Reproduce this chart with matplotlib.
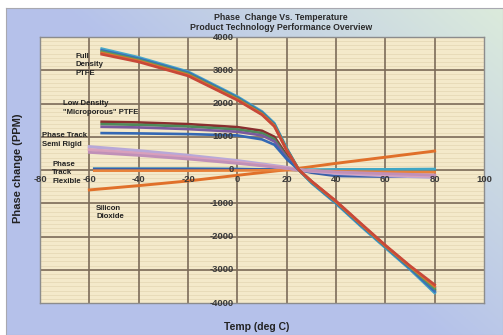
import matplotlib
matplotlib.use('Agg')
import matplotlib.pyplot as plt
import numpy as np

# Datos
temp_full = [-55, -40, -20, 0, 10, 15, 20, 25, 30, 40, 50, 60, 70, 80]
full_teal = [3650, 3390, 2960, 2210, 1760, 1410, 660, 0, -390, -1010, -1690, -2340, -2990, -3700]
full_blue = [3600, 3350, 2930, 2180, 1730, 1380, 640, 0, -370, -990, -1660, -2310, -2960, -3650]
full_green = [3560, 3310, 2890, 2150, 1700, 1350, 620, 0, -350, -960, -1630, -2290, -2920, -3560]
full_orange = [3520, 3280, 2860, 2120, 1680, 1330, 600, 0, -340, -950, -1620, -2280, -2900, -3500]
full_red = [3480, 3250, 2830, 2100, 1660, 1310, 590, 0, -330, -930, -1600, -2260, -2880, -3450]

temp_low = [-55, -40, -20, 0, 10, 15, 20, 25, 30, 40, 50, 60, 70, 80]
low_darkred = [1450, 1430, 1380, 1290, 1180, 1000, 450, 0, -350, -970, -1640, -2290, -2930, -3600]
low_green = [1380, 1360, 1310, 1220, 1110, 930, 400, 0, -360, -980, -1650, -2300, -2940, -3620]
low_purple = [1300, 1280, 1230, 1150, 1040, 860, 370, 0, -340, -960, -1630, -2280, -2910, -3540]
low_blue = [1110, 1100, 1080, 1040, 920, 760, 330, 0, -370, -990, -1660, -2320, -2970, -3680]

temp_semi = [-60, -40, -20, 0, 20, 25, 40, 60, 80]
semi_lavender = [700, 580, 440, 280, 80, 0, -100, -170, -220]
semi_pink = [610, 500, 380, 230, 60, 0, -80, -140, -180]
semi_mauve = [530, 440, 330, 200, 50, 0, -60, -110, -150]

temp_flex = [-58, -40, -20, 0, 20, 25, 30, 40, 60, 80]
flex_teal = [40, 40, 40, 30, 15, 0, 10, 20, 20, 30]
flex_blue = [30, 30, 30, 25, 10, 0, -80, -180, -200, -190]
flex_orange = [-20, -20, -20, -15, -5, 0, -20, -40, -60, -70]

temp_sio2 = [-60, -40, -20, 0, 20, 25, 40, 60, 80]
sio2 = [-600, -470, -330, -160, 10, 50, 200, 385, 570]

x_ticks = [-80, -60, -40, -20, 0, 20, 40, 60, 80, 100]
y_ticks = [4000, 3000, 2000, 1000, 0, -1000, -2000, -3000, -4000]

fam = ['Liberation Sans', 'DejaVu Sans']

W, H = 503, 335
fig = plt.figure(figsize=(W / 100, H / 100), dpi=100)

# Fondo azul con degradado
bg = fig.add_axes([6 / W, 0, 1 - 6 / W, 1 - 8 / H])
gx = np.linspace(0, 1, 200)
gy = np.linspace(0, 1, 200)
GX, GY = np.meshgrid(gx, gy)
t = np.clip((GX * 0.8 + (1 - GY) * 0.6) - 0.7, 0, 1) / 0.7
c1 = np.array([0.71, 0.76, 0.92])
c2 = np.array([0.86, 0.92, 0.86])
img = c1[None, None, :] * (1 - t[..., None]) + c2[None, None, :] * t[..., None]
bg.imshow(img, aspect='auto', extent=[0, 1, 0, 1])
bg.set_xticks([])
bg.set_yticks([])
for s in bg.spines.values():
    s.set_color('#A8A8B0')
    s.set_linewidth(0.8)

ax = fig.add_axes([40 / W, 1 - 303 / H, 444 / W, 266 / H])
ax.set_facecolor('#F4E9CA')
ax.set_xlim(-80, 100)
ax.set_ylim(-4000, 4000)

# franjas del fondo
for yy in np.arange(-4000, 4000, 125):
    ax.axhline(yy, color='#E6D9B6', lw=0.6, zorder=0)
for xx in x_ticks[1:-1]:
    ax.axvline(xx, color='#7C6C5A', lw=1.2, zorder=1)
for yy in y_ticks[1:-1]:
    ax.axhline(yy, color='#7C6C5A', lw=1.2, zorder=1)

ax.set_xticks([])
ax.set_yticks([])
for s in ax.spines.values():
    s.set_color('#8C8C8C')
    s.set_linewidth(1.0)

lw = 1.9
ax.plot(temp_sio2, sio2, color='#E0702A', lw=2.1, zorder=3)
ax.plot(temp_flex, flex_teal, color='#3FA6C4', lw=lw, zorder=3)
ax.plot(temp_flex, flex_blue, color='#3A5FA8', lw=lw, zorder=3)
ax.plot(temp_flex, flex_orange, color='#E8823A', lw=lw, zorder=3)
ax.plot(temp_semi, semi_lavender, color='#B8A8D8', lw=2.3, zorder=3)
ax.plot(temp_semi, semi_pink, color='#D8A0BC', lw=2.3, zorder=3)
ax.plot(temp_semi, semi_mauve, color='#C090B8', lw=2.0, zorder=3)
ax.plot(temp_low, low_darkred, color='#8A2E2E', lw=lw, zorder=3)
ax.plot(temp_low, low_green, color='#4E8A5A', lw=lw, zorder=3)
ax.plot(temp_low, low_purple, color='#7A5A9E', lw=lw, zorder=3)
ax.plot(temp_low, low_blue, color='#3468B4', lw=lw, zorder=3)
ax.plot(temp_full, full_teal, color='#48A8C8', lw=lw, zorder=4)
ax.plot(temp_full, full_blue, color='#3A70B8', lw=lw, zorder=4)
ax.plot(temp_full, full_green, color='#5A9A5A', lw=lw, zorder=4)
ax.plot(temp_full, full_orange, color='#E07030', lw=lw, zorder=4)
ax.plot(temp_full, full_red, color='#C84838', lw=lw, zorder=4)

# etiquetas de los ejes sobre las lineas del cero
for xv in x_ticks:
    ax.text(xv, -300, str(xv), ha='center', va='center', fontsize=6.8,
            color='#3A3A3A', fontweight='bold', family=fam, zorder=5)
for yv in y_ticks:
    ax.text(-1.5, yv, str(yv), ha='right', va='center', fontsize=6.8,
            color='#3A3A3A', fontweight='bold', family=fam, zorder=5)

fs = 5.6
notes = [
    (-65.7, 3160, 'Full\nDensity\nPTFE'),
    (-70.5, 1865, 'Low Density\n"Microporous" PTFE'),
    (-79, 900, 'Phase Track\nSemi Rigid'),
    (-75, -90, 'Phase\nTrack\nFlexible'),
    (-57.2, -1280, 'Silicon\nDioxide'),
]
for nx, ny, txt in notes:
    ax.text(nx, ny, txt, fontsize=fs, fontweight='bold', family=fam,
            va='center', ha='left', linespacing=1.3, color='#222222', zorder=5)

fig.text(281 / W, 1 - 17 / H, 'Phase  Change Vs. Temperature', ha='center', va='center',
         fontsize=6.3, fontweight='bold', family=fam, color='#2A2A2A')
fig.text(281 / W, 1 - 27 / H, 'Product Technology Performance Overview', ha='center',
         va='center', fontsize=6.3, fontweight='bold', family=fam, color='#2A2A2A')
fig.text(257 / W, 1 - 327 / H, 'Temp (deg C)', ha='center', va='center',
         fontsize=7.5, fontweight='bold', family=fam, color='#222222')
fig.text(18 / W, 1 - 168 / H, 'Phase change (PPM)', ha='center', va='center',
         rotation=90, fontsize=8, fontweight='bold', family=fam, color='#222222')

plt.savefig('out.png', dpi=100)
plt.close()
